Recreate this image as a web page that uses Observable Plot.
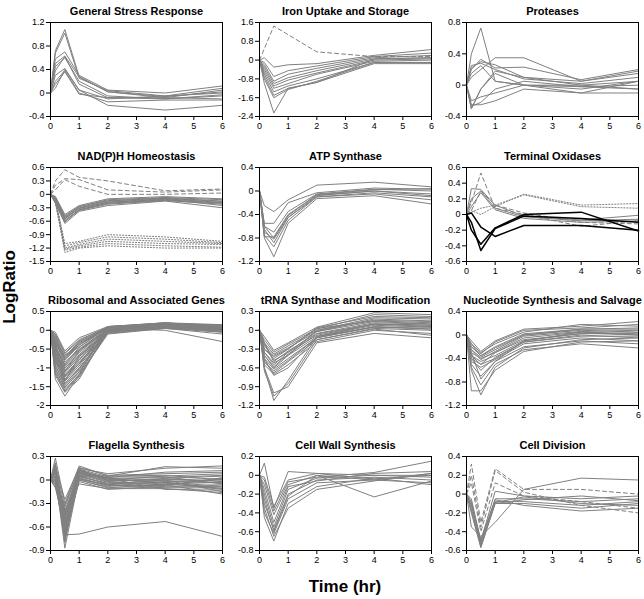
<!DOCTYPE html>
<html><head><meta charset="utf-8">
<script src="https://cdn.jsdelivr.net/npm/d3@7"></script>
<script src="https://cdn.jsdelivr.net/npm/@observablehq/plot@0.6"></script>
<style>
body{margin:0;background:#fff;}
#chart{position:relative;width:644px;height:599px;overflow:hidden;font-family:"Liberation Sans",Arial,sans-serif;color:#000;}
#ylab{position:absolute;left:10px;top:287px;transform:translate(-50%,-50%) rotate(-90deg);font-weight:bold;font-size:17px;white-space:nowrap;}
#xlab{position:absolute;left:345px;top:587px;transform:translate(-50%,-50%);font-weight:bold;font-size:17px;white-space:nowrap;}
</style></head><body>
<div id="chart"><div id="ylab">LogRatio</div><div id="xlab">Time (hr)</div></div>
<script>
const times = [0, 0.17, 0.5, 1, 2, 4, 6];
const xTicks = [0, 1, 2, 3, 4, 5, 6];
const titles = ["General Stress Response", "Iron Uptake and Storage", "Proteases",
  "NAD(P)H Homeostasis", "ATP Synthase", "Terminal Oxidases",
  "Ribosomal and Associated Genes", "tRNA Synthase and Modification", "Nucleotide Synthesis and Salvage",
  "Flagella Synthesis", "Cell Wall Synthesis", "Cell Division"];
const yTicks = [
  [-0.4, 0, 0.4, 0.8, 1.2],
  [-2.4, -1.6, -0.8, 0, 0.8, 1.6],
  [-0.4, 0, 0.4, 0.8],
  [-1.5, -1.2, -0.9, -0.6, -0.3, 0, 0.3, 0.6],
  [-1.2, -0.8, -0.4, 0, 0.4],
  [-0.6, -0.4, -0.2, 0, 0.2, 0.4, 0.6],
  [-2, -1.5, -1, -0.5, 0, 0.5],
  [-1.2, -0.9, -0.6, -0.3, 0, 0.3],
  [-1.2, -0.8, -0.4, 0, 0.4],
  [-0.9, -0.6, -0.3, 0, 0.3],
  [-0.8, -0.6, -0.4, -0.2, 0, 0.2],
  [-0.6, -0.4, -0.2, 0, 0.2, 0.4]
];

const stressSeries = [
  [0, 0.72, 1.08, 0.28, 0.02, -0.08, 0.05],
  [0, 0.68, 1.02, 0.25, 0.04, -0.05, 0.08],
  [0, 0.58, 0.7, 0.3, 0.05, 0.0, 0.12],
  [0, 0.5, 0.63, 0.27, 0.02, -0.06, 0.02],
  [0, 0.45, 0.6, 0.2, -0.05, -0.1, -0.05],
  [0, 0.38, 0.62, 0.15, -0.08, -0.08, -0.1],
  [0, 0.3, 0.42, 0.05, -0.21, -0.29, -0.21],
  [0, 0.2, 0.38, 0.0, -0.15, -0.12, -0.12],
  [0, 0.15, 0.36, -0.02, -0.08, -0.1, -0.03],
  [0, 0.08, 0.4, 0.05, -0.1, -0.05, 0.0]
];
const ironSeries = [
  [0, 0.49, 1.45, 1.08, 0.35, 0.15, 0.15],
  [0, 0.1, -0.3, -0.2, -0.15, 0.2, 0.45],
  [0, -0.1, -0.7, -0.45, -0.25, 0.15, 0.3],
  [0, -0.2, -0.9, -0.6, -0.35, 0.1, 0.2],
  [0, -0.3, -1.0, -0.75, -0.45, 0.05, 0.1],
  [0, -0.4, -1.1, -0.85, -0.55, 0.0, 0.05],
  [0, -0.5, -1.2, -1.0, -0.6, -0.05, 0.0],
  [0, -0.6, -1.35, -1.1, -0.8, -0.1, -0.1],
  [0, -0.7, -1.5, -1.2, -0.95, -0.15, -0.15],
  [0, -0.8, -1.6, -1.25, -0.9, -0.1, -0.1],
  [0, -1.0, -2.25, -1.2, -0.95, 0.05, 0.1]
];
const ironKinds = ["dashed", "solid", "solid", "solid", "solid", "solid", "solid", "solid", "solid", "solid", "solid"];
const proteaseSeries = [
  [0, 0.4, 0.73, 0.05, 0.0, -0.05, 0.05],
  [0, 0.1, 0.2, 0.35, 0.35, 0.05, 0.18],
  [0, 0.2, 0.33, 0.22, 0.23, 0.07, 0.2],
  [0, 0.22, 0.3, 0.26, 0.1, 0.05, 0.15],
  [0, 0.25, 0.28, 0.2, 0.08, 0.02, 0.1],
  [0, -0.3, -0.05, 0.18, 0.1, 0.0, 0.05],
  [0, -0.27, -0.22, -0.05, 0.05, -0.02, 0.0],
  [0, -0.25, -0.25, -0.2, -0.05, -0.1, 0.05],
  [0, -0.2, -0.15, -0.1, 0.0, 0.0, -0.05],
  [0, -0.3, -0.05, 0.15, 0.0, -0.1, -0.1],
  [0, 0.15, 0.25, 0.05, 0.0, -0.02, -0.05]
];
const nadSeries = [
  [0, 0.3, 0.55, 0.38, 0.3, 0.08, 0.12],
  [0, 0.2, 0.35, 0.33, 0.1, 0.05, 0.1],
  [0, 0.1, 0.33, 0.18, 0.0, 0.0, 0.03],
  [0, -0.05, -0.45, -0.25, -0.1, -0.05, -0.1],
  [0, -0.08, -0.5, -0.28, -0.12, -0.07, -0.12],
  [0, -0.1, -0.52, -0.3, -0.15, -0.08, -0.15],
  [0, -0.12, -0.55, -0.32, -0.17, -0.1, -0.18],
  [0, -0.15, -0.58, -0.35, -0.2, -0.12, -0.2],
  [0, -0.1, -0.6, -0.36, -0.22, -0.14, -0.22],
  [0, -0.2, -0.65, -0.38, -0.25, -0.15, -0.3],
  [0, -0.05, -0.48, -0.27, -0.14, -0.09, -0.16],
  [0, -0.12, -0.54, -0.31, -0.18, -0.11, -0.25],
  [0, -0.18, -0.62, -0.34, -0.2, -0.13, -0.19],
  [0, -0.1, -1.1, -1.05, -0.9, -0.95, -1.05],
  [0, -0.12, -1.15, -1.08, -0.95, -1.0, -1.08],
  [0, -0.15, -1.2, -1.12, -1.0, -1.05, -1.1],
  [0, -0.1, -1.22, -1.15, -1.05, -1.1, -1.12],
  [0, -0.2, -1.25, -1.18, -1.1, -1.15, -1.18],
  [0, -0.15, -1.3, -1.2, -1.15, -1.2, -1.2]
];
const nadKinds = ["dashed", "dashed", "dashed",
  "solid", "solid", "solid", "solid", "solid", "solid", "solid", "solid", "solid", "solid",
  "dotted", "dotted", "dotted", "dotted", "dotted", "dotted"];
const atpSeries = [
  [0, -0.25, -0.35, -0.15, 0.1, 0.15, 0.07],
  [0, -0.55, -0.55, -0.2, -0.03, 0.05, 0.03],
  [0, -0.6, -0.7, -0.35, -0.05, 0.03, 0.0],
  [0, -0.78, -0.78, -0.4, -0.07, 0.0, -0.05],
  [0, -0.7, -0.82, -0.45, -0.08, 0.0, -0.08],
  [0, -0.65, -0.88, -0.45, -0.1, -0.03, -0.1],
  [0, -0.75, -0.95, -0.5, -0.1, -0.05, -0.15],
  [0, -0.8, -1.12, -0.55, -0.13, -0.08, -0.22],
  [0, -0.6, -0.8, -0.42, -0.06, 0.02, 0.04]
];
const oxidaseSeries = [
  [0, 0.33, 0.32, 0.12, -0.02, -0.07, -0.01],
  [0, 0.2, 0.3, 0.08, -0.03, -0.08, -0.06],
  [0, 0.1, 0.28, 0.06, -0.05, -0.1, -0.08],
  [0, 0.15, 0.53, 0.08, 0.0, -0.15, -0.08],
  [0, 0.05, 0.3, 0.12, 0.02, -0.1, -0.12],
  [0, 0.05, 0.0, 0.1, 0.26, 0.12, 0.14],
  [0, 0.03, 0.08, 0.12, 0.25, 0.1, 0.08],
  [0, 0.02, -0.16, -0.28, -0.14, -0.14, -0.2],
  [0, -0.2, -0.38, -0.17, 0.0, 0.03, -0.21],
  [0, -0.1, -0.46, -0.18, -0.02, -0.05, -0.1]
];
const oxidaseKinds = ["solid", "solid", "solid", "dashed", "dashed", "dotted", "dotted", "black", "black", "black"];
const riboSeries = [
  [0, -0.05, -0.55, -0.2, 0.1, 0.2, 0.15],
  [0, -0.1, -0.6, -0.25, 0.08, 0.18, 0.1],
  [0, -0.15, -0.7, -0.3, 0.05, 0.15, 0.12],
  [0, -0.2, -0.8, -0.4, 0.1, 0.2, 0.05],
  [0, -0.3, -0.85, -0.5, 0.05, 0.12, 0.08],
  [0, -0.25, -0.95, -0.55, 0.0, 0.1, 0.0],
  [0, -0.4, -1.0, -0.6, 0.05, 0.15, 0.1],
  [0, -0.35, -1.05, -0.7, -0.05, 0.1, 0.05],
  [0, -0.5, -1.1, -0.75, 0.02, 0.18, 0.12],
  [0, -0.45, -1.15, -0.8, 0.0, 0.12, 0.0],
  [0, -0.6, -1.2, -0.85, -0.05, 0.08, -0.05],
  [0, -0.55, -1.25, -0.9, 0.08, 0.2, 0.1],
  [0, -0.7, -1.3, -0.95, 0.0, 0.1, 0.05],
  [0, -0.65, -1.35, -1.0, -0.08, 0.05, -0.1],
  [0, -0.8, -1.4, -1.05, 0.05, 0.15, 0.1],
  [0, -0.75, -1.45, -1.1, -0.02, 0.1, 0.0],
  [0, -0.9, -1.5, -1.15, 0.05, 0.12, 0.08],
  [0, -1.0, -1.55, -1.2, -0.05, 0.08, 0.02],
  [0, -1.1, -1.6, -1.25, 0.0, 0.15, 0.12],
  [0, -1.2, -1.65, -1.3, 0.02, 0.1, 0.05],
  [0, -1.3, -1.75, -1.2, -0.1, 0.05, -0.05],
  [0, -0.3, -0.65, -0.45, 0.1, 0.18, 0.14],
  [0, -0.2, -0.75, -0.35, 0.05, 0.0, -0.3],
  [0, -0.6, -1.0, -0.65, 0.03, 0.14, 0.06],
  [0, -0.8, -1.2, -0.9, -0.03, 0.1, 0.02],
  [0, -0.5, -0.9, -0.45, 0.07, 0.17, 0.11],
  [0, -0.4, -1.35, -0.7, 0.0, 0.12, 0.05],
  [0, -0.7, -1.1, -0.55, 0.05, 0.15, 0.09],
  [0, -0.12, -0.62, -0.28, 0.09, 0.19, 0.13],
  [0, -0.28, -0.78, -0.38, 0.06, 0.16, 0.11],
  [0, -0.42, -0.92, -0.52, 0.04, 0.13, 0.07],
  [0, -0.58, -1.08, -0.68, 0.01, 0.11, 0.04],
  [0, -0.72, -1.22, -0.78, -0.02, 0.09, 0.03],
  [0, -0.85, -1.32, -0.88, 0.03, 0.14, 0.09],
  [0, -0.95, -1.42, -1.02, -0.04, 0.07, -0.02],
  [0, -1.05, -1.52, -1.1, 0.01, 0.13, 0.07],
  [0, -1.15, -1.62, -1.18, -0.06, 0.06, -0.03],
  [0, -0.35, -0.72, -0.33, 0.08, 0.17, 0.13]
];
const trnaSeries = [
  [0, -0.1, -0.32, -0.2, 0.05, 0.28, 0.25],
  [0, -0.15, -0.35, -0.22, 0.02, 0.25, 0.22],
  [0, -0.2, -0.38, -0.25, 0.0, 0.2, 0.18],
  [0, -0.25, -0.4, -0.28, -0.02, 0.18, 0.15],
  [0, -0.3, -0.45, -0.3, 0.03, 0.15, 0.12],
  [0, -0.22, -0.5, -0.33, -0.05, 0.12, 0.1],
  [0, -0.35, -0.55, -0.35, -0.08, 0.1, 0.08],
  [0, -0.4, -0.6, -0.4, -0.1, 0.08, 0.05],
  [0, -0.45, -0.62, -0.45, -0.12, 0.05, 0.02],
  [0, -0.5, -0.68, -0.5, -0.15, 0.03, 0.0],
  [0, -0.55, -0.7, -0.55, -0.18, 0.0, -0.05],
  [0, -0.6, -1.0, -0.9, -0.2, -0.05, -0.12],
  [0, -0.65, -1.05, -0.85, -0.15, 0.02, -0.08],
  [0, -0.6, -1.12, -0.8, -0.1, 0.05, 0.05],
  [0, -0.3, -0.42, -0.3, 0.04, 0.22, 0.2],
  [0, -0.2, -0.48, -0.35, -0.02, 0.14, 0.1],
  [0, -0.4, -0.58, -0.38, -0.06, 0.1, 0.06],
  [0, -0.5, -0.65, -0.48, -0.12, 0.06, 0.02],
  [0, -0.35, -0.52, -0.4, 0.0, 0.16, 0.14],
  [0, -0.45, -0.72, -0.6, -0.1, 0.1, 0.08]
];
const nucleotideSeries = [
  [0, -0.1, -0.28, -0.1, 0.1, 0.15, 0.23],
  [0, -0.15, -0.3, -0.15, 0.05, 0.18, 0.15],
  [0, -0.2, -0.35, -0.2, 0.02, 0.1, 0.1],
  [0, -0.25, -0.38, -0.25, 0.0, 0.08, 0.05],
  [0, -0.3, -0.4, -0.3, -0.05, 0.05, 0.02],
  [0, -0.35, -0.45, -0.35, -0.1, 0.03, 0.0],
  [0, -0.4, -0.5, -0.4, -0.12, 0.0, -0.05],
  [0, -0.45, -0.55, -0.42, -0.15, -0.05, -0.1],
  [0, -0.5, -0.7, -0.45, -0.2, -0.1, -0.15],
  [0, -0.55, -0.85, -0.5, -0.25, -0.15, -0.22],
  [0, -0.95, -0.95, -0.6, -0.28, -0.12, -0.1],
  [0, -0.6, -1.02, -0.55, -0.22, -0.08, -0.05],
  [0, -0.3, -0.75, -0.45, -0.1, 0.05, 0.0],
  [0, -0.2, -0.32, -0.12, 0.08, 0.12, 0.18],
  [0, -0.25, -0.42, -0.28, -0.02, 0.06, 0.08],
  [0, -0.35, -0.5, -0.3, -0.08, 0.02, 0.04],
  [0, -0.15, -0.36, -0.22, 0.0, 0.1, 0.12],
  [0, -0.4, -0.6, -0.38, -0.12, -0.02, -0.02]
];
const flagellaSeries = [
  [0, 0.28, -0.3, 0.18, 0.05, 0.17, 0.15],
  [0, 0.2, -0.35, 0.15, 0.08, 0.15, 0.18],
  [0, 0.1, -0.4, 0.12, 0.03, 0.1, 0.12],
  [0, 0.05, -0.45, 0.1, 0.0, 0.05, 0.08],
  [0, 0.0, -0.5, 0.08, -0.02, 0.02, 0.05],
  [0, -0.05, -0.55, 0.05, -0.05, 0.0, 0.02],
  [0, -0.1, -0.6, 0.02, -0.08, -0.02, 0.0],
  [0, 0.15, -0.65, 0.0, -0.1, -0.05, -0.03],
  [0, 0.08, -0.7, -0.02, -0.12, -0.08, -0.06],
  [0, -0.02, -0.75, 0.06, -0.06, -0.1, -0.1],
  [0, 0.12, -0.8, 0.1, 0.02, -0.12, -0.13],
  [0, 0.05, -0.87, 0.04, -0.04, -0.06, -0.18],
  [0, 0.18, -0.25, 0.16, 0.06, 0.08, 0.1],
  [0, -0.08, -0.32, 0.14, 0.04, 0.04, -0.05],
  [0, 0.1, -0.42, 0.11, 0.01, -0.03, -0.08],
  [0, 0.02, -0.52, 0.07, -0.03, -0.04, -0.12],
  [0, 0.22, -0.58, 0.13, 0.0, 0.0, -0.15],
  [0, -0.05, -0.62, 0.03, -0.07, -0.07, 0.03],
  [0, 0.06, -0.68, 0.09, -0.01, 0.01, -0.02],
  [0, 0.0, -0.72, 0.0, -0.09, -0.09, -0.08],
  [0, 0.14, -0.48, 0.12, 0.02, 0.03, 0.06],
  [0, 0.0, -0.7, -0.69, -0.6, -0.53, -0.72],
  [0, 0.04, -0.38, -0.05, -0.11, -0.11, -0.16],
  [0, -0.03, -0.55, 0.05, 0.05, 0.06, 0.0],
  [0, 0.16, -0.44, 0.14, -0.01, -0.01, -0.04],
  [0, -0.06, -0.66, 0.01, -0.06, -0.03, -0.11],
  [0, 0.09, -0.78, 0.08, 0.03, -0.06, 0.01]
];
const cellWallSeries = [
  [0, 0.13, -0.35, 0.04, 0.02, 0.0, -0.02],
  [0, -0.05, -0.38, -0.07, -0.02, 0.03, 0.15],
  [0, -0.1, -0.42, -0.1, 0.0, -0.05, 0.02],
  [0, -0.2, -0.55, -0.15, -0.03, 0.0, 0.0],
  [0, -0.3, -0.58, -0.2, -0.05, -0.02, -0.05],
  [0, -0.4, -0.62, -0.25, -0.08, -0.05, -0.08],
  [0, -0.45, -0.7, -0.3, -0.12, -0.03, -0.1],
  [0, -0.35, -0.65, -0.35, -0.15, -0.06, 0.02],
  [0, -0.25, -0.6, -0.22, 0.0, -0.23, -0.06],
  [0, -0.15, -0.5, -0.12, -0.06, 0.02, 0.04],
  [0, -0.02, -0.33, -0.05, 0.02, -0.04, 0.0]
];
const divisionSeries = [
  [0, 0.32, -0.3, 0.27, 0.05, 0.05, 0.0],
  [0, 0.2, -0.35, 0.25, 0.02, -0.12, -0.2],
  [0, 0.12, -0.4, 0.12, -0.02, -0.08, -0.15],
  [0, -0.35, -0.45, -0.3, 0.05, 0.17, 0.15],
  [0, -0.05, -0.5, 0.03, -0.02, -0.05, -0.02],
  [0, -0.1, -0.52, -0.05, -0.05, -0.08, -0.05],
  [0, -0.15, -0.55, -0.08, -0.08, -0.12, -0.08],
  [0, -0.2, -0.57, -0.1, -0.1, -0.15, -0.1],
  [0, -0.12, -0.48, -0.06, -0.12, -0.18, -0.15],
  [0, -0.08, -0.53, -0.1, -0.06, -0.02, -0.07],
  [0, -0.18, -0.56, -0.09, -0.03, -0.1, -0.12]
];
const divisionKinds = ["dashed", "dashed", "dashed", "solid", "solid", "solid", "solid", "solid", "solid", "solid", "solid"];

const allSeries = [stressSeries, ironSeries, proteaseSeries, nadSeries, atpSeries, oxidaseSeries,
  riboSeries, trnaSeries, nucleotideSeries, flagellaSeries, cellWallSeries, divisionSeries];
const allKinds = [null, ironKinds, null, nadKinds, null, oxidaseKinds, null, null, null, null, null, divisionKinds];

const colLeft = [50, 258.5, 465.5];
const rowTop = [22, 167, 311, 456];
const PW = 172, PH = 94, ML = 40, MR = 6, MT = 22, MB = 22;
const fmt = d => String(Math.round(d * 10) / 10);
const kindStyle = {
  solid: {stroke: "#808080", strokeWidth: 1},
  dashed: {stroke: "#808080", strokeWidth: 1, strokeDasharray: "4,3"},
  dotted: {stroke: "#808080", strokeWidth: 1, strokeDasharray: "1.2,1.8"},
  black: {stroke: "#000", strokeWidth: 1.5}
};
const chart = document.getElementById("chart");

allSeries.forEach((series, i) => {
  const col = i % 3, row = Math.floor(i / 3);
  const kinds = allKinds[i];
  const rows = [];
  series.forEach((s, k) => s.forEach((v, j) => rows.push({id: k, kind: kinds ? kinds[k] : "solid", t: times[j], v})));
  const marks = [];
  for (const kind of ["solid", "dotted", "dashed", "black"]) {
    const data = rows.filter(r => r.kind === kind);
    if (!data.length) continue;
    marks.push(Plot.line(data, {x: "t", y: "v", z: "id", ...kindStyle[kind]}));
  }
  marks.push(Plot.frame({stroke: "#000", strokeWidth: 1}));
  marks.push(Plot.text([titles[i]], {frameAnchor: "top", dy: -15, text: d => d, fontWeight: "bold", fontSize: 11, fill: "#000"}));
  const yt = yTicks[i];
  const svg = Plot.plot({
    width: ML + PW + MR, height: MT + PH + MB,
    marginLeft: ML, marginRight: MR, marginTop: MT, marginBottom: MB,
    style: {fontFamily: "'Liberation Sans', Arial, sans-serif", fontSize: "9px", background: "transparent", color: "#000", overflow: "visible"},
    x: {domain: [0, 6], ticks: xTicks, tickFormat: d => String(d), tickSize: 4, tickPadding: 2, label: null},
    y: {domain: [yt[0], yt[yt.length - 1]], ticks: yt, tickFormat: fmt, tickSize: 4, tickPadding: 2, label: null},
    marks
  });
  svg.style.position = "absolute";
  svg.style.left = (colLeft[col] - ML) + "px";
  svg.style.top = (rowTop[row] - MT) + "px";
  chart.appendChild(svg);
});
</script>
</body></html>
